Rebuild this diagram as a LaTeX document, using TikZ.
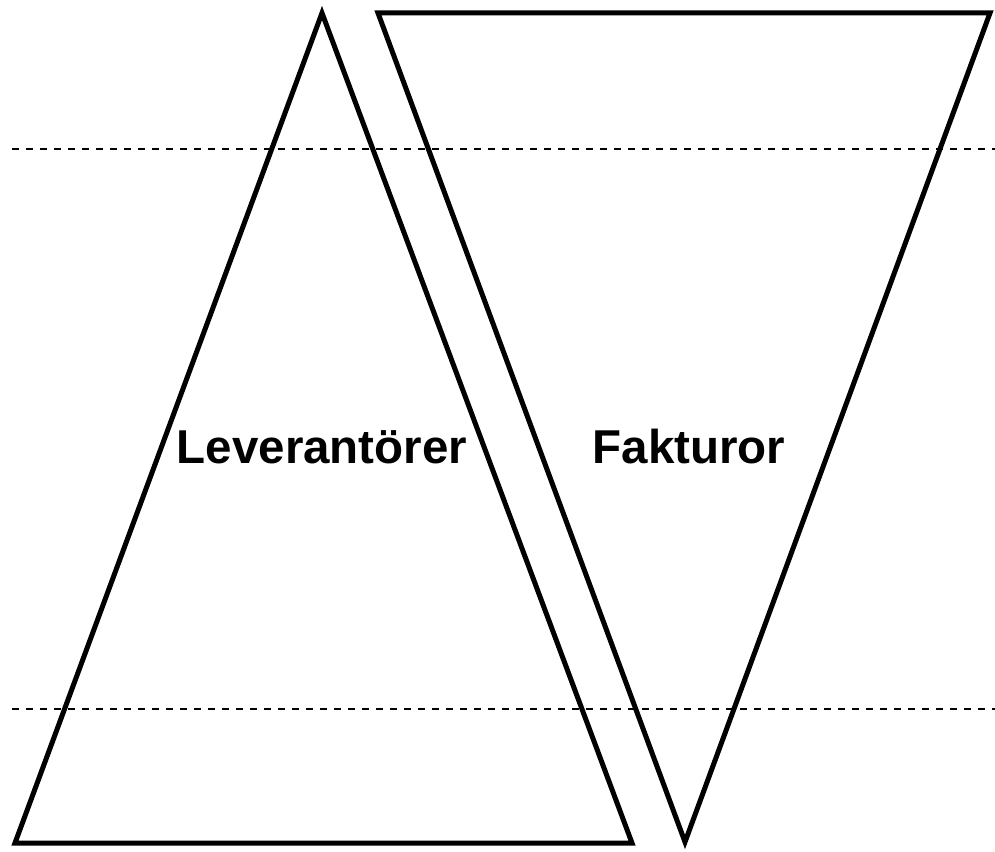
\documentclass[tikz,border=0pt]{standalone}
\usepackage{fontspec}
\setmainfont{Liberation Sans}
\begin{document}
\begin{tikzpicture}[x=1pt,y=-1pt,
  tri/.style={draw=black,line width=5pt,line join=miter},
  guide/.style={draw=black,line width=1.4pt,dash pattern=on 7pt off 7pt},
  lbl/.style={font=\fontsize{47.5}{52}\selectfont\bfseries,anchor=base,inner sep=0pt}]
\useasboundingbox (0,0) rectangle (995,851);
\coordinate (g1a) at (12,149);
\coordinate (g1b) at (995,149);
\coordinate (g2a) at (12,709);
\coordinate (g2b) at (995,709);
\draw[guide] (g1a) -- (g1b);
\draw[guide] (g2a) -- (g2b);
\draw[tri] (322,13) -- (632,843) -- (15,843) -- cycle;
\draw[tri] (378,13) -- (990,13) -- (685,842) -- cycle;
\node[lbl] (lev) at (322,463) {Leverantörer};
\node[lbl] (fak) at (689,463) {Fakturor};
\end{tikzpicture}
\end{document}
